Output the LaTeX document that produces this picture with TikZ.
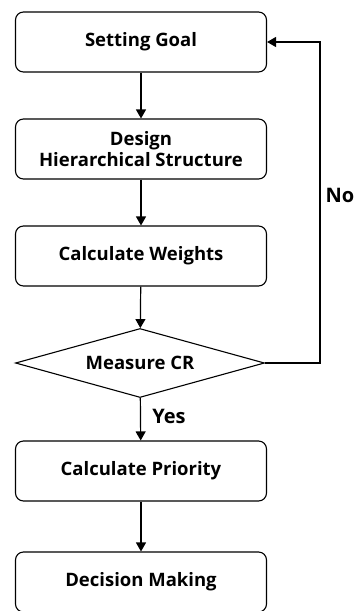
\documentclass[tikz,border=0pt]{standalone}
\usepackage{fontspec}
\setmainfont{Open Sans}
\usetikzlibrary{shapes.geometric,arrows.meta}
\begin{document}
\begin{tikzpicture}[x=1pt,y=-1pt,
  stepbox/.style={draw, line width=1.1pt, rounded corners=8pt, minimum width=251pt, minimum height=60pt, inner sep=0pt, align=center, font=\fontsize{18.5}{21}\selectfont\bfseries},
  decide/.style={draw, line width=1.1pt, diamond, aspect=3.6, minimum width=249pt, minimum height=69pt, inner sep=0pt, font=\fontsize{18.5}{21}\selectfont\bfseries},
  arr/.style={draw, line width=1.2pt, -{Triangle[length=9pt,width=10pt]}},
  lbl/.style={font=\fontsize{20}{22}\selectfont\bfseries}]
\useasboundingbox (0,0) rectangle (360,611);
\node[stepbox] (goal) at (141,42) {Setting Goal};
\node[stepbox] (design) at (141,149) {Design\\Hierarchical Structure};
\node[stepbox] (weights) at (141,256) {Calculate Weights};
\node[decide] (cr) at (140,363) {Measure CR};
\node[stepbox] (prio) at (141,471) {Calculate Priority};
\node[stepbox] (dec) at (141,582) {Decision Making};
\coordinate (c1) at (320,363);
\coordinate (c2) at (320,42);
\draw[arr] (goal) -- (design);
\draw[arr] (design) -- (weights);
\draw[arr] (weights) -- (cr);
\draw[arr] (cr) -- (prio);
\draw[arr] (prio) -- (dec);
\draw[arr] (cr.east) -- (c1) -- (c2) -- (goal.east);
\node[lbl] (no) at (340,195) {No};
\node[lbl] (yes) at (169,416) {Yes};
\end{tikzpicture}
\end{document}
